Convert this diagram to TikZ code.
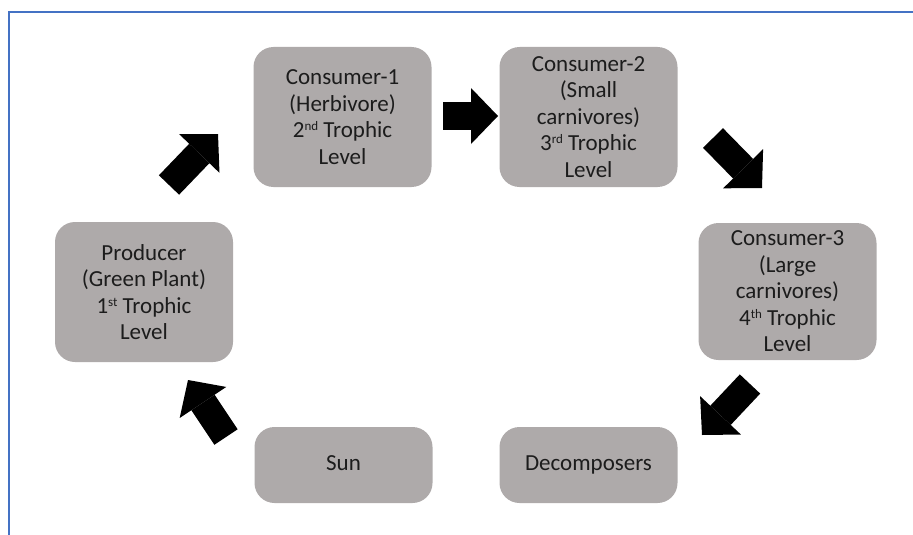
\documentclass[tikz,border=0pt]{standalone}
\usepackage{fontspec}
\setmainfont{Carlito}
\usetikzlibrary{arrows.meta}
\definecolor{boxgray}{HTML}{AEAAAA}
\definecolor{frameblue}{HTML}{4472C4}
\definecolor{txt}{HTML}{1C1C1C}
% small raised ordinal suffix
\newcommand{\ordsfx}[1]{\raisebox{7pt}{\fontsize{13}{13}\selectfont #1}}
\begin{document}
\begin{tikzpicture}[x=1pt,y=-1pt,
  level/.style={fill=boxgray, rounded corners=20pt, minimum width=178pt,
    inner sep=0pt, align=center, text=txt,
    font=\fontsize{23}{26.5}\selectfont},
  tall/.style={level, minimum height=140pt},
  short/.style={level, minimum height=76pt, text height=16pt, text depth=5pt},
  blockarrow/.style={line width=28pt, black,
    -{Triangle[width=56pt,length=27pt,line width=0pt]}}]
\useasboundingbox (0,0) rectangle (913,535);
% open frame along the top and left edges
\draw[frameblue, line width=1.5pt] (9,535) -- (9,12) -- (913,12);

% trophic levels
\node[tall] (prod) at (144,292) {Producer\\(Green Plant)\\1\ordsfx{st} Trophic\\Level};
\node[tall] (c1) at (342.5,117) {Consumer-1\\(Herbivore)\\2\ordsfx{nd} Trophic\\Level};
\node[tall] (c2) at (588.5,117) {Consumer-2\\(Small\\carnivores)\\3\ordsfx{rd} Trophic\\Level};
\node[tall, minimum height=137pt] (c3) at (787.5,291.5) {Consumer-3\\(Large\\carnivores)\\4\ordsfx{th} Trophic\\Level};
\node[short] (sun) at (343.5,465) {Sun};
\node[short] (dec) at (588.5,465) {Decomposers};

% ends of the block arrows between the levels
\coordinate (a1s) at (169,185); \coordinate (a1e) at (218,134);
\coordinate (a2s) at (443,116); \coordinate (a2e) at (498,116);
\coordinate (a3s) at (713,138); \coordinate (a3e) at (762,188);
\coordinate (a4s) at (750,384); \coordinate (a4e) at (702,435);
\coordinate (a5s) at (226,437); \coordinate (a5e) at (188,380);

\draw[blockarrow] (a1s) -- (a1e);
\draw[blockarrow] (a2s) -- (a2e);
\draw[blockarrow] (a3s) -- (a3e);
\draw[blockarrow] (a4s) -- (a4e);
\draw[blockarrow] (a5s) -- (a5e);
\end{tikzpicture}
\end{document}
